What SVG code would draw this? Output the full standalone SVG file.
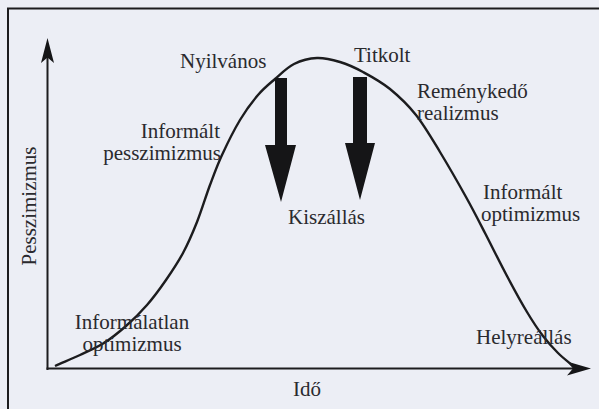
<svg xmlns="http://www.w3.org/2000/svg" width="599" height="409" viewBox="0 0 599 409">
  <defs>
    <style>
      .lbl { font-family: "Liberation Serif", "Times New Roman", serif; font-size: 21px; fill: #2a2a2e; }
      .mid { text-anchor: middle; }
      .end { text-anchor: end; }
      .ln { stroke: #1c1c1e; fill: none; }
      .blk { fill: #151517; }
    </style>
  </defs>
  <rect x="0" y="0" width="599" height="409" fill="#eceef5"/>
  <g id="frame">
    <path class="ln" stroke-width="2" d="M8,409 V8.5 H599"/>
  </g>
  <g id="connectors">
    <g id="y-axis">
      <line class="ln" stroke-width="2" x1="47.5" y1="370" x2="47.5" y2="52"/>
      <polygon class="blk" points="47.5,38 54,63 47.5,57.5 41,63"/>
    </g>
    <g id="x-axis">
      <line class="ln" stroke-width="2.2" x1="46.5" y1="368.5" x2="578" y2="368.5"/>
      <polygon class="blk" points="591,368.5 567,361.5 573,368.5 567,375.5"/>
    </g>
    <path id="curve" class="ln" stroke-width="2.4" d="M55,366 C63.3,362.3 71.8,358.8 80,355 C88.2,351.2 96.3,347.8 104,343 C111.7,338.2 118.8,332.3 126,326 C133.2,319.7 140.3,312.7 147,305 C153.7,297.3 160,288.7 166,280 C172,271.3 177.8,262.7 183,253 C188.2,243.3 192.5,233.3 197,222 C201.5,210.7 205.8,196.2 210,185 C214.2,173.8 217,165.8 222,155 C227,144.2 234,130 240,120 C246,110 252.2,101.8 258,95 C263.8,88.2 269,84.2 275,79 C281,73.8 287,67.5 294,64 C301,60.5 309.3,58.3 317,58 C324.7,57.7 332.3,59.7 340,62 C347.7,64.3 354.7,67.5 363,72 C371.3,76.5 381.2,81.8 390,89 C398.8,96.2 407.7,104.5 416,115 C424.3,125.5 431.7,138.3 440,152 C448.3,165.7 458.5,183.5 466,197 C473.5,210.5 478.2,219.8 485,233 C491.8,246.2 500,262.8 507,276 C514,289.2 521,302 527,312 C533,322 537.8,329.2 543,336 C548.2,342.8 553.2,348.2 558,353 C562.8,357.8 567.3,361 572,365"/>
    <polygon id="exit-public" class="blk" points="275,78 287,78 287,145 296,145 281,202 265,145 275,145"/>
    <polygon id="exit-hidden" class="blk" points="353,77 367,77 367,143 375,143 360,200 345,143 353,143"/>
  </g>
  <g id="y-label"><text class="lbl mid" transform="translate(36,206) rotate(-90)">Pesszimizmus</text></g>
  <g id="x-label"><text class="lbl" x="293" y="396">Idő</text></g>
  <g id="nyilvanos"><text class="lbl" x="180" y="68">Nyilvános</text></g>
  <g id="titkolt"><text class="lbl" x="354" y="62">Titkolt</text></g>
  <g id="remenykedo-realizmus">
    <text class="lbl" x="417" y="98">Reménykedő</text>
    <text class="lbl" x="417" y="120">realizmus</text>
  </g>
  <g id="informalt-pesszimizmus">
    <text class="lbl end" x="220" y="138">Informált</text>
    <text class="lbl end" x="221" y="160">pesszimizmus</text>
  </g>
  <g id="kiszallas"><text class="lbl" x="288" y="224">Kiszállás</text></g>
  <g id="informalt-optimizmus">
    <text class="lbl" x="483" y="199">Informált</text>
    <text class="lbl" x="481" y="221">optimizmus</text>
  </g>
  <g id="informalatlan-optimizmus">
    <text class="lbl mid" x="132" y="329">Informálatlan</text>
    <text class="lbl mid" x="132" y="351">optimizmus</text>
  </g>
  <g id="helyreallas"><text class="lbl" x="476" y="344">Helyreállás</text></g>
</svg>
